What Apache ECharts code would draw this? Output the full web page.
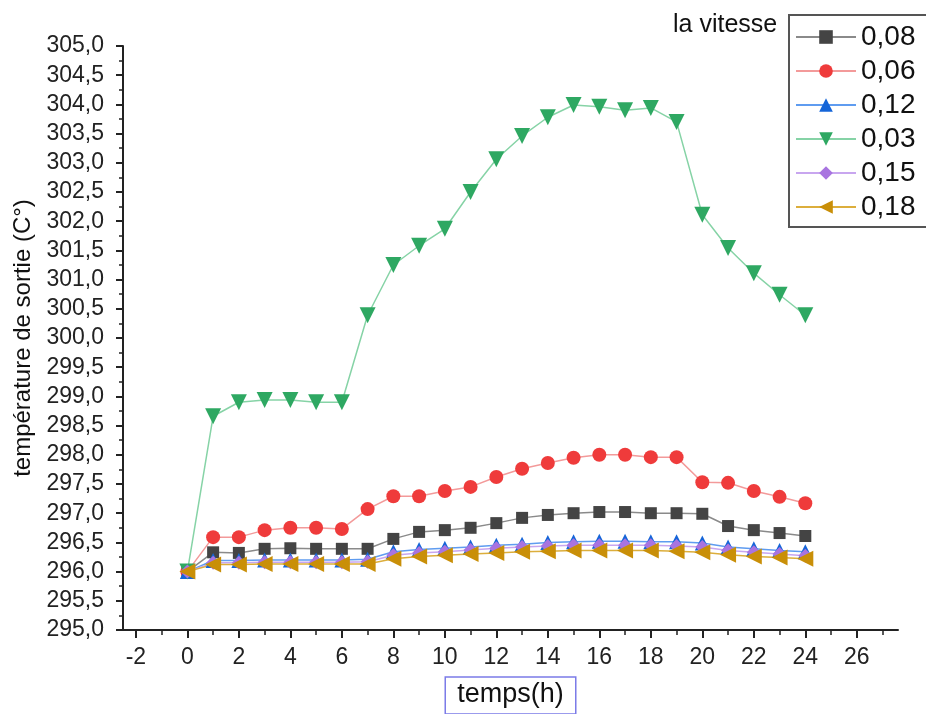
<!DOCTYPE html>
<html>
<head>
<meta charset="utf-8">
<script src="https://cdn.jsdelivr.net/npm/echarts@6/dist/echarts.min.js"></script>
<style>
  html, body { margin: 0; padding: 0; background: #fff; }
  #chart { width: 926px; height: 714px; }
</style>
</head>
<body>
<div id="chart"></div>
<script>
// temps (h)
var hours = [0, 1, 2, 3, 4, 5, 6, 7, 8, 9, 10, 11, 12, 13, 14, 15, 16, 17, 18, 19, 20, 21, 22, 23, 24];

// température de sortie pour chaque vitesse
var v008 = [296.00, 296.33, 296.32, 296.39, 296.40, 296.39, 296.39, 296.39, 296.56, 296.68, 296.71, 296.75, 296.83, 296.92, 296.97, 297.00, 297.02, 297.02, 297.00, 297.00, 296.99, 296.78, 296.71, 296.66, 296.61];
var v006 = [296.00, 296.59, 296.59, 296.71, 296.75, 296.75, 296.73, 297.07, 297.29, 297.29, 297.38, 297.45, 297.62, 297.76, 297.86, 297.95, 298.00, 298.00, 297.96, 297.96, 297.53, 297.52, 297.38, 297.28, 297.17];
var v012 = [296.00, 296.19, 296.19, 296.20, 296.20, 296.20, 296.20, 296.21, 296.34, 296.38, 296.40, 296.42, 296.45, 296.47, 296.50, 296.51, 296.52, 296.52, 296.51, 296.51, 296.49, 296.42, 296.39, 296.36, 296.34];
var v003 = [296.00, 298.66, 298.90, 298.94, 298.94, 298.90, 298.90, 300.39, 301.25, 301.58, 301.87, 302.50, 303.06, 303.46, 303.78, 303.99, 303.96, 303.90, 303.94, 303.70, 302.11, 301.54, 301.11, 300.74, 300.39];
var v015 = [296.00, 296.15, 296.15, 296.16, 296.16, 296.16, 296.16, 296.17, 296.28, 296.32, 296.34, 296.37, 296.40, 296.42, 296.44, 296.45, 296.45, 296.45, 296.45, 296.44, 296.42, 296.36, 296.33, 296.30, 296.27];
var v018 = [296.00, 296.12, 296.12, 296.13, 296.13, 296.13, 296.13, 296.13, 296.22, 296.26, 296.28, 296.30, 296.32, 296.34, 296.35, 296.36, 296.36, 296.36, 296.36, 296.35, 296.33, 296.29, 296.26, 296.24, 296.22];

var xMajorTicks = [-2, 0, 2, 4, 6, 8, 10, 12, 14, 16, 18, 20, 22, 24, 26];
var xMinorTicks = [-1, 1, 3, 5, 7, 9, 11, 13, 15, 17, 19, 21, 23, 25, 27];

function pairs(vals) {
    var out = [];
    for (var i = 0; i < hours.length; i++) {
        out.push([hours[i], vals[i]]);
    }
    return out;
}

function mkSeries(name, vals, markColor, lineColor, symbol, size, rot) {
    return {
        name: name,
        type: 'line',
        data: pairs(vals),
        symbol: symbol,
        symbolSize: size,
        symbolRotate: rot,
        showAllSymbol: true,
        animation: false,
        itemStyle: { color: markColor, opacity: 1 },
        lineStyle: { color: lineColor, width: 1.5 },
        emphasis: { disabled: true }
    };
}

var font = 'Liberation Sans, Arial, sans-serif';

var chart = echarts.init(document.getElementById('chart'));
var option = {
    backgroundColor: '#fff',
    animation: false,
    title: {
        text: 'la vitesse',
        left: 668,
        top: 8,
        textStyle: { fontFamily: font, fontSize: 25, fontWeight: 'normal', color: '#111' }
    },
    legend: {
        orient: 'vertical',
        left: 789,
        top: 15,
        padding: [8, 16, 6, 6],
        itemGap: 6,
        itemWidth: 60,
        itemHeight: 17,
        borderColor: '#555',
        borderWidth: 2,
        textStyle: { fontFamily: font, fontSize: 28, color: '#111' },
        data: ['0,08', '0,06', '0,12', '0,03', '0,15', '0,18']
    },
    grid: { left: 123, top: 46, right: 28, bottom: 84, containLabel: false, outerBoundsMode: 'none' },
    xAxis: [{
        type: 'value',
        min: -2.5,
        max: 27.6,
        name: 'temps(h)',
        nameLocation: 'middle',
        nameGap: 47,
        nameTextStyle: {
            fontFamily: font, fontSize: 27, color: '#111',
            borderColor: '#7b7be8', borderWidth: 1.5, padding: [4, 12, 6, 12]
        },
        axisLine: { onZero: false, lineStyle: { color: '#222', width: 2 } },
        axisTick: { customValues: xMajorTicks, length: 8, lineStyle: { color: '#222', width: 2 } },
        axisLabel: { customValues: xMajorTicks, margin: 16, fontFamily: font, fontSize: 23, color: '#222' },
        splitLine: { show: false }
    }, {
        type: 'value',
        min: -2.5,
        max: 27.6,
        position: 'bottom',
        axisLine: { show: false, onZero: false },
        axisTick: { customValues: xMinorTicks, length: 5, lineStyle: { color: '#222', width: 1.5 } },
        axisLabel: { show: false },
        splitLine: { show: false }
    }],
    yAxis: {
        type: 'value',
        min: 295,
        max: 305,
        interval: 0.5,
        name: 'température de sortie (C°)',
        nameLocation: 'middle',
        nameGap: 86,
        nameTextStyle: { fontFamily: font, fontSize: 24, color: '#111' },
        axisLine: { show: true, onZero: false, lineStyle: { color: '#222', width: 2 } },
        axisTick: { show: true, length: 7, lineStyle: { color: '#222', width: 2 } },
        minorTick: { show: true, splitNumber: 2, length: 4, lineStyle: { color: '#222', width: 1.5 } },
        axisLabel: {
            margin: 19, fontFamily: font, fontSize: 23, color: '#222',
            formatter: function (v) { return v.toFixed(1).replace('.', ','); }
        },
        splitLine: { show: false }
    },
    series: [
        mkSeries('0,08', v008, '#444444', '#8a8a8a', 'rect', 12, 0),
        mkSeries('0,06', v006, '#ef3b3b', '#f39a9a', 'circle', 14, 0),
        mkSeries('0,12', v012, '#1565d8', '#5f9cf0', 'triangle', 15, 0),
        mkSeries('0,03', v003, '#2ea862', '#86d3a6', 'triangle', 16, 180),
        mkSeries('0,15', v015, '#a874e0', '#c8a6ef', 'diamond', 14, 0),
        mkSeries('0,18', v018, '#c98f08', '#dcae3c', 'triangle', 16, 90)
    ]
};
chart.setOption(option);
</script>
</body>
</html>
